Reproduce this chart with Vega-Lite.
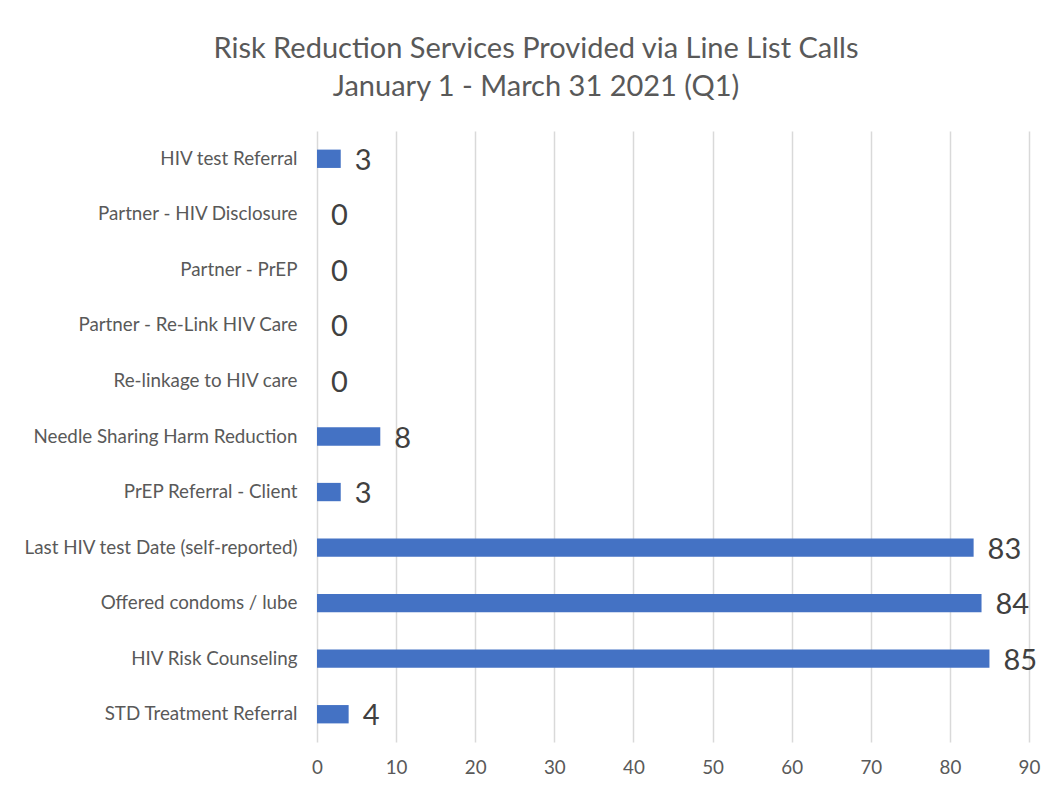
{
  "$schema": "https://vega.github.io/schema/vega-lite/v6.json",
  "width": 712,
  "height": 611,
  "autosize": {"type": "none"},
  "padding": {"left": 317, "top": 131, "right": 23, "bottom": 46},
  "background": "white",
  "title": {
    "text": ["Risk Reduction Services Provided via Line List Calls", "January 1 - March 31 2021 (Q1)"],
    "font": "Lato",
    "fontSize": 29,
    "fontWeight": "normal",
    "color": "#595959",
    "lineHeight": 38,
    "anchor": "middle",
    "dx": -137,
    "offset": 29
  },
  "config": {
    "view": {"stroke": null},
    "axis": {"labelFont": "Lato", "labelColor": "#595959", "labelFontSize": 18.8}
  },
  "data": {
    "values": [
      {"service": "HIV test Referral", "count": 3},
      {"service": "Partner - HIV Disclosure", "count": 0},
      {"service": "Partner - PrEP", "count": 0},
      {"service": "Partner - Re-Link HIV Care", "count": 0},
      {"service": "Re-linkage to HIV care", "count": 0},
      {"service": "Needle Sharing Harm Reduction", "count": 8},
      {"service": "PrEP Referral - Client", "count": 3},
      {"service": "Last HIV test Date (self-reported)", "count": 83},
      {"service": "Offered condoms / lube", "count": 84},
      {"service": "HIV Risk Counseling", "count": 85},
      {"service": "STD Treatment Referral", "count": 4}
    ]
  },
  "encoding": {
    "y": {
      "field": "service",
      "type": "nominal",
      "sort": null,
      "scale": {"paddingInner": 0.67, "paddingOuter": 0.335},
      "axis": {"title": null, "ticks": false, "domain": false, "labelPadding": 20, "labelLimit": 320}
    },
    "x": {
      "field": "count",
      "type": "quantitative",
      "scale": {"domain": [0, 90], "nice": false},
      "axis": {"title": null, "values": [0, 10, 20, 30, 40, 50, 60, 70, 80, 90], "ticks": false, "domain": false, "labelFlush": false, "gridColor": "#d9d9d9", "gridWidth": 1.5, "labelPadding": 16}
    }
  },
  "layer": [
    {"mark": {"type": "bar", "color": "#4472C4"}},
    {
      "mark": {"type": "text", "align": "left", "baseline": "middle", "dx": 14, "dy": 2, "font": "Lato", "fontSize": 29, "color": "#404040"},
      "encoding": {"text": {"field": "count", "type": "quantitative"}}
    }
  ]
}
